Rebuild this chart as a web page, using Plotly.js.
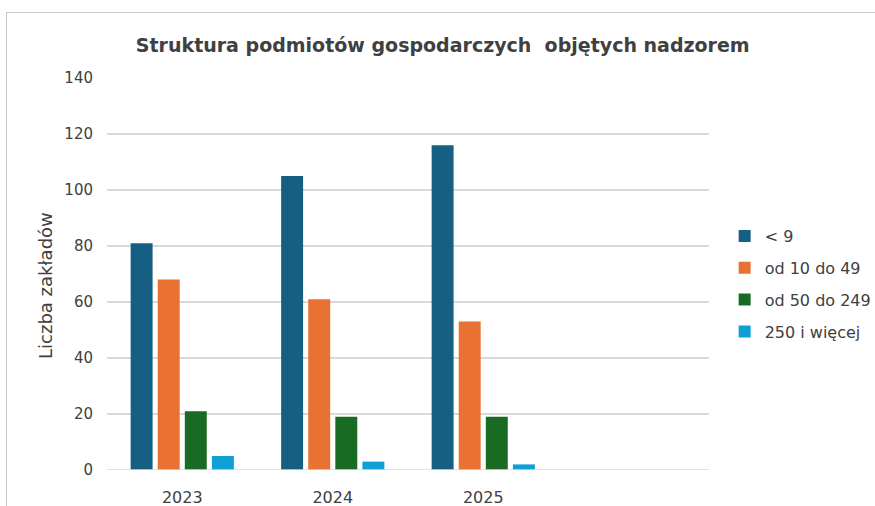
<!DOCTYPE html>
<html>
<head>
<meta charset="utf-8">
<script src="https://cdn.plot.ly/plotly-3.0.1.min.js"></script>
<style>
html,body{margin:0;padding:0;background:#fff;}
#wrap{position:relative;width:875px;height:506px;}
#chart{width:875px;height:506px;}
#frame{position:absolute;left:6px;top:12px;right:0;bottom:0;border-top:1.5px solid #c8c8c8;border-left:1.5px solid #c8c8c8;pointer-events:none;}
</style>
</head>
<body>
<div id="wrap"><div id="chart"></div><div id="frame"></div></div>
<script>
const years = ['2023', '2024', '2025'];
const seriesNames = ['< 9', 'od 10 do 49', 'od 50 do 249', '250 i więcej'];
const small = [81, 105, 116];
const medium10 = [68, 61, 53];
const medium50 = [21, 19, 19];
const large = [5, 3, 2];
const yTicks = [0, 20, 40, 60, 80, 100, 120, 140];
const colors = ['#156082', '#E97132', '#196B24', '#0F9ED5'];

const FONT = '"DejaVu Sans", Verdana, sans-serif';
const values = [small, medium10, medium50, large];
const traces = values.map((v, i) => ({
  type: 'bar',
  name: seriesNames[i],
  x: years,
  y: v,
  marker: {color: colors[i]},
  legendgroup: 'g' + i,
  hoverinfo: 'x+y+name'
}));

const layout = {
  width: 875, height: 506,
  margin: {l: 107, r: 166, t: 78, b: 36, autoexpand: false},
  paper_bgcolor: '#fff', plot_bgcolor: '#fff',
  font: {family: FONT, color: '#404040', size: 14},
  title: {
    text: 'Struktura podmiotów gospodarczych  objętych nadzorem',
    font: {family: FONT, size: 19, weight: 700, color: '#404040'},
    x: 0.506, xanchor: 'center', y: 0.91, yanchor: 'middle'
  },
  barmode: 'group',
  bargap: 0.28,
  bargroupgap: 0.19,
  xaxis: {
    type: 'category',
    categoryorder: 'array', categoryarray: years,
    range: [-0.5, 3.5],
    showgrid: false, zeroline: false, showline: false, ticks: '',
    ticklabelstandoff: 16,
    tickfont: {size: 16, color: '#404040'}
  },
  yaxis: {
    range: [0, 140],
    tickvals: yTicks,
    showgrid: true, gridcolor: '#d9d9d9', gridwidth: 1.5,
    zeroline: false, showline: false, ticks: '',
    ticklabelstandoff: 13,
    tickfont: {size: 15, color: '#404040'}
  },
  shapes: [{type: 'line', xref: 'paper', yref: 'y', x0: 0, x1: 1, y0: 0, y1: 0, line: {color: '#d9d9d9', width: 1.5}}],
  legend: {
    x: 1.026, xanchor: 'left', y: 0.64, yanchor: 'top',
    traceorder: 'grouped', tracegroupgap: 8,
    font: {size: 16, color: '#404040'},
    itemwidth: 30
  },
  annotations: [{
    text: 'Liczba zakładów', xref: 'paper', yref: 'paper',
    x: -0.101, y: 0.47, xanchor: 'center', yanchor: 'middle',
    textangle: -90, showarrow: false,
    font: {size: 18, color: '#404040'}
  }]
};

Plotly.newPlot('chart', traces, layout, {displayModeBar: false, responsive: false});
</script>
</body>
</html>
